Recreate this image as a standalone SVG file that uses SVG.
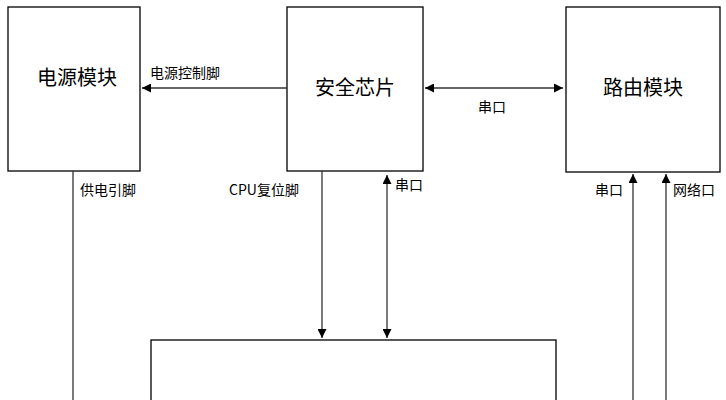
<svg xmlns="http://www.w3.org/2000/svg" width="726" height="400" viewBox="0 0 726 400">
<style>
.b{fill:#fff;stroke:#000;stroke-width:1.3}
.t{font-family:"Noto Sans CJK SC","Liberation Sans",sans-serif;fill:#000}
.n{font-size:20px}
.s{font-size:14px}
.l{fill:none;stroke:#333;stroke-width:1.3}
</style>
<defs><marker id="a" viewBox="0 0 10 10" refX="10" refY="5" markerWidth="9" markerHeight="9" markerUnits="userSpaceOnUse" orient="auto-start-reverse"><path d="M0,0 L10,5 L0,10 z" fill="#000"/></marker></defs>
<rect width="726" height="400" fill="#fff"/>
<g id="power"><rect class="b" x="8" y="7" width="132" height="164"/><text class="t n" x="77" y="85" text-anchor="middle">电源模块</text></g>
<g id="chip"><rect class="b" x="287" y="7" width="136" height="164"/><text class="t n" x="355" y="95" text-anchor="middle">安全芯片</text></g>
<g id="router"><rect class="b" x="566" y="7" width="154" height="165"/><text class="t n" x="643" y="95" text-anchor="middle">路由模块</text></g>
<g id="main"><rect class="b" x="151" y="340" width="405" height="80"/></g>
<g id="connectors">
<line class="l" x1="287" y1="88" x2="142" y2="88" marker-end="url(#a)"/>
<text class="t s" x="150" y="78">电源控制脚</text>
<line class="l" x1="425" y1="88" x2="563" y2="88" marker-start="url(#a)" marker-end="url(#a)"/>
<text class="t s" x="478" y="112">串口</text>
<line class="l" x1="73" y1="171" x2="73" y2="400"/>
<text class="t s" x="80" y="195">供电引脚</text>
<line class="l" x1="322" y1="171" x2="322" y2="338" marker-end="url(#a)"/>
<text class="t s" x="229" y="195">CPU复位脚</text>
<line class="l" x1="387" y1="175" x2="387" y2="338" marker-start="url(#a)" marker-end="url(#a)"/>
<text class="t s" x="395" y="190">串口</text>
<line class="l" x1="633" y1="400" x2="633" y2="174" marker-end="url(#a)"/>
<text class="t s" x="595" y="195">串口</text>
<line class="l" x1="666" y1="400" x2="666" y2="174" marker-end="url(#a)"/>
<text class="t s" x="673" y="195">网络口</text>
</g>
</svg>
